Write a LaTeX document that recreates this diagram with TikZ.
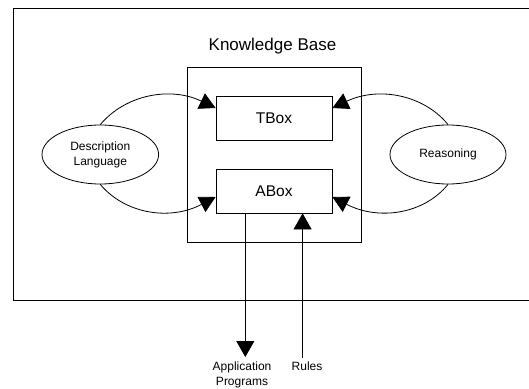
\documentclass[tikz,border=0pt]{standalone}
\usepackage{fontspec}
\setmainfont{Liberation Sans}
\usetikzlibrary{arrows.meta,shapes.geometric}
\begin{document}
\begin{tikzpicture}[x=1pt,y=-1pt,
  line/.style={line width=0.8pt,draw=black},
  boxnode/.style={line, rectangle, inner sep=0pt, minimum width=116pt, minimum height=44pt, font=\fontsize{15.5}{18}\selectfont},
  ellnode/.style={line, ellipse, inner sep=0pt, minimum width=116pt, minimum height=59pt, align=center, font=\fontsize{12}{15}\selectfont},
  lbl/.style={inner sep=0pt, align=center, font=\fontsize{12}{15.5}\selectfont},
  curvearrow/.style={line, -{Triangle[length=16pt,width=17pt]}},
  vertarrow/.style={line, -{Triangle[length=16pt,width=18pt]}}
]
\useasboundingbox (0,0) rectangle (529,388);
\clip (0,0) rectangle (529,388);
% outer frame (right side lies beyond the picture)
\draw[line] (13.5,8.5) rectangle (560,300.3);
% title
\node[inner sep=0pt, anchor=base, font=\fontsize{17}{20}\selectfont] (kbtitle) at (272.5,50) {Knowledge Base};
% knowledge base box
\node[line, rectangle, inner sep=0pt, minimum width=174pt, minimum height=175pt] (kb) at (274,154.5) {};
% TBox and ABox
\node[boxnode] (tbox) at (274,118) {TBox};
\node[boxnode] (abox) at (274,191) {ABox};
% ellipses
\node[ellnode, minimum width=116.6pt] (dl) at (100.3,154.5) {Description\\Language};
\node[ellnode] (rs) at (448,154.5) {Reasoning};
% arrow tip points on the boxes
\coordinate (tl) at ([yshift=10pt]tbox.west);
\coordinate (al) at ([yshift=-6pt]abox.west);
\coordinate (tr) at ([yshift=10pt]tbox.east);
\coordinate (ar) at ([yshift=-6pt]abox.east);
% curved connectors
\draw[curvearrow] (dl.north) .. controls (125,95) and (170,86) .. (tl);
\draw[curvearrow] (dl.south) .. controls (125,214) and (170,221) .. (al);
\draw[curvearrow] (rs.north) .. controls (424,95) and (379,86) .. (tr);
\draw[curvearrow] (rs.south) .. controls (424,214) and (379,221) .. (ar);
% vertical connectors
\coordinate (appstart) at ([xshift=-28.7pt]abox.south);
\coordinate (append) at (245.3,357);
\coordinate (rulesstart) at (302.6,358);
\coordinate (rulesend) at ([xshift=28.6pt]abox.south);
\draw[vertarrow] (appstart) -- (append);
\draw[vertarrow] (rulesstart) -- (rulesend);
% labels
\node[lbl, anchor=north] (applbl) at (242,361.4) {Application\\Programs};
\node[lbl, anchor=base] (ruleslbl) at (307,370) {Rules};
\end{tikzpicture}
\end{document}
